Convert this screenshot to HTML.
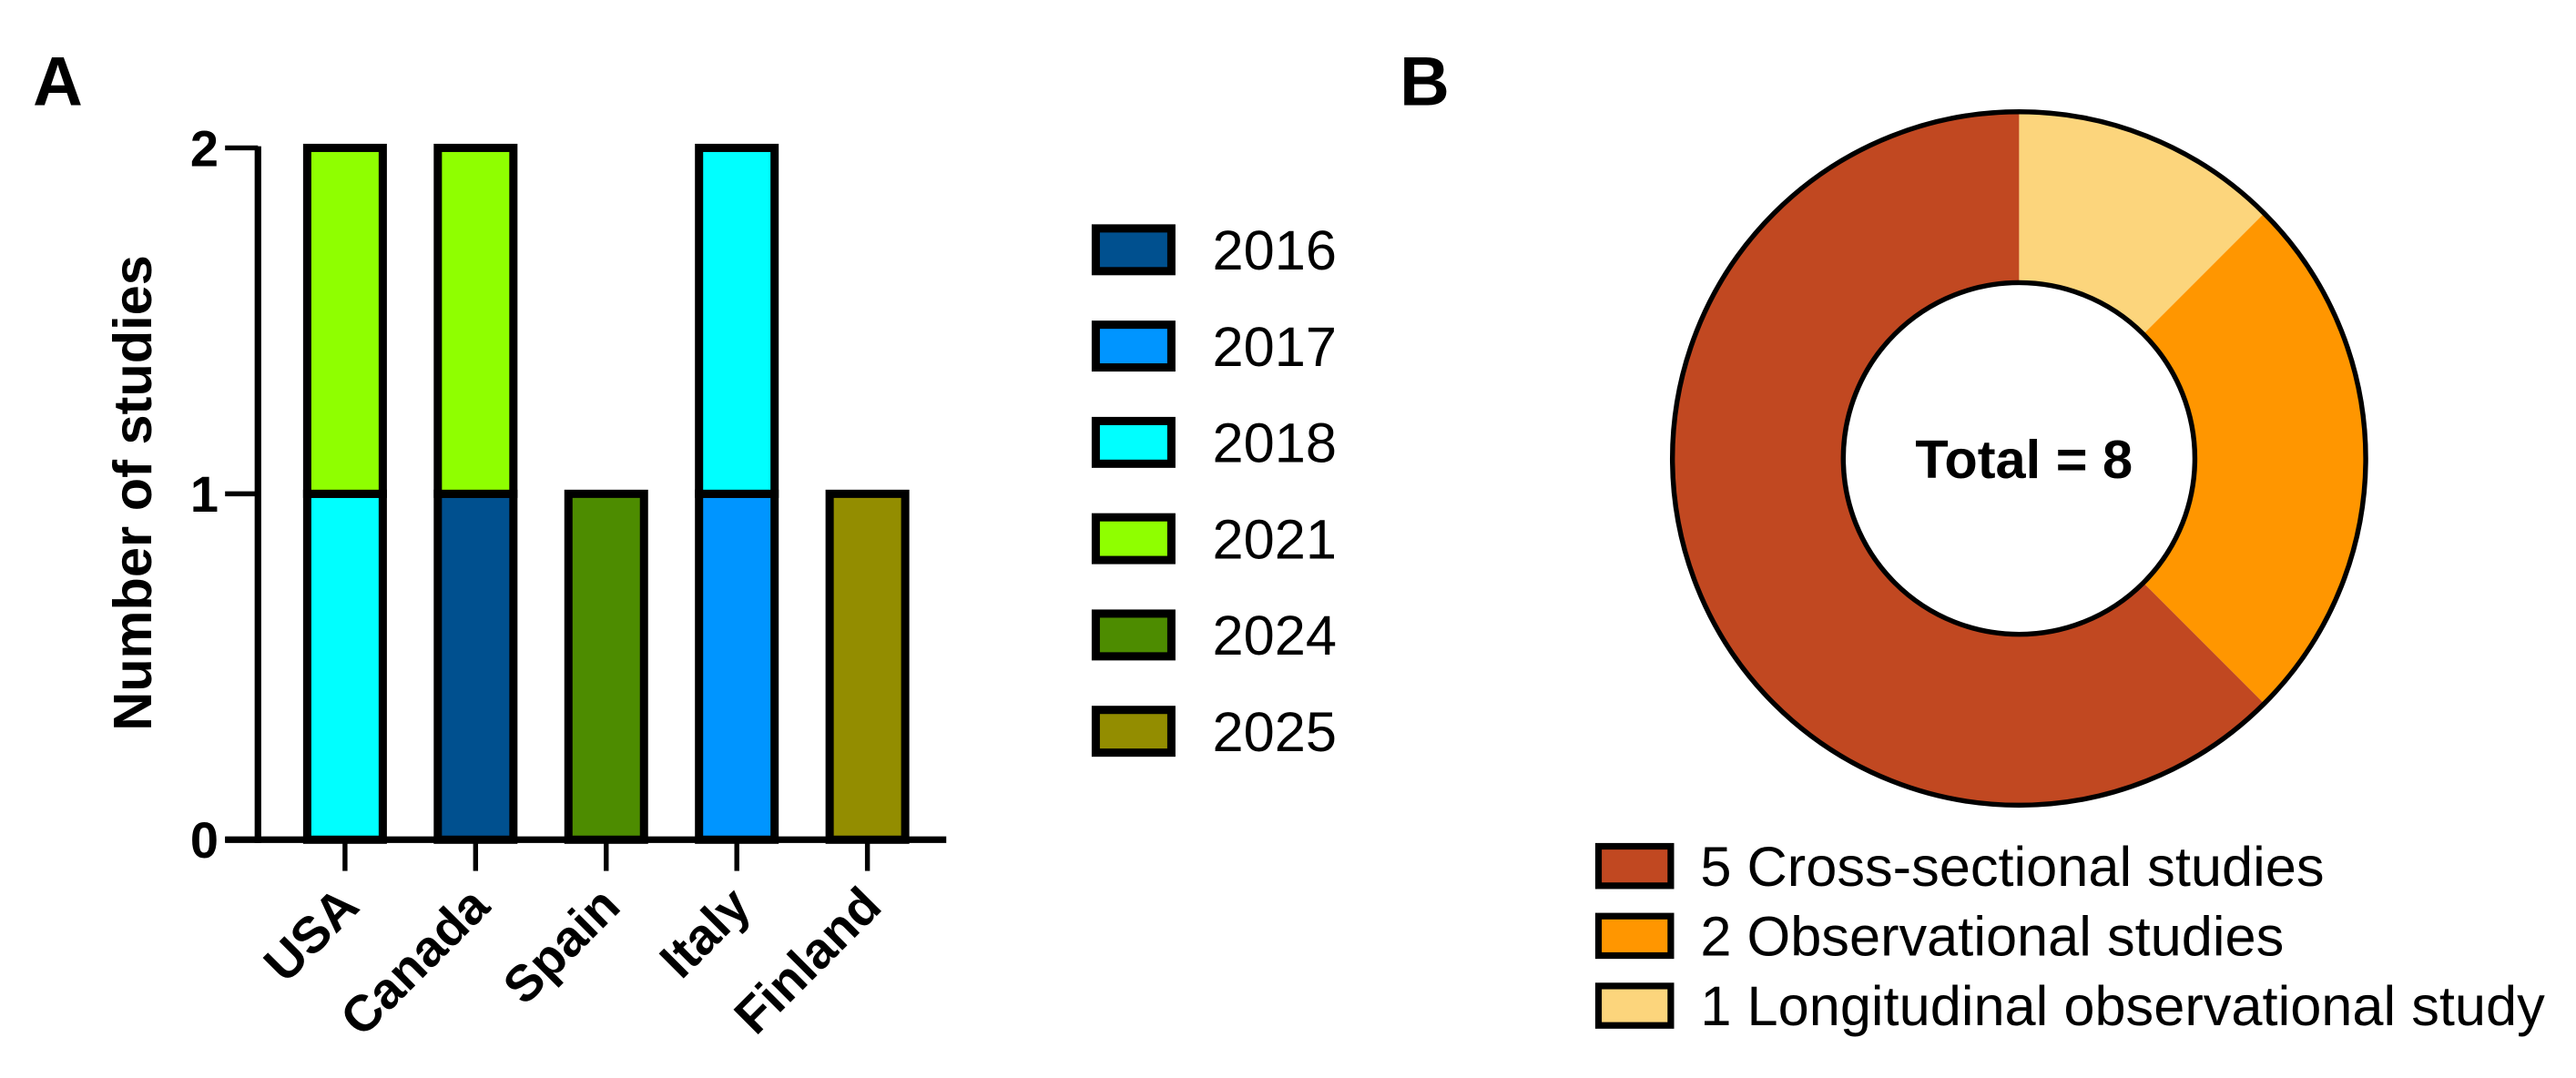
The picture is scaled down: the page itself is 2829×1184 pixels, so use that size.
<!DOCTYPE html>
<html><head><meta charset="utf-8">
<style>html,body{margin:0;padding:0;background:#fff}svg{display:block}text{font-family:"Liberation Sans",Arial,sans-serif}</style>
</head><body>
<svg id="fig" width="2829" height="1184" viewBox="0 0 1568 656" preserveAspectRatio="none" xmlns="http://www.w3.org/2000/svg">
<text x="20" y="64" font-size="42" font-weight="bold">A</text>
<text x="852" y="64" font-size="42" font-weight="bold">B</text>
<g id="barchart"></g>
<g id="donut"></g>
</svg>
<script>
const categories = ["USA","Canada","Spain","Italy","Finland"];
const years = ["2016","2017","2018","2021","2024","2025"];
const yearColors = ["#00508f","#0095ff","#00ffff","#8fff00","#4d8c00","#938d00"];
// stacked segments per country: [year index, count] bottom to top
const stackUSA = [[2,1],[3,1]];
const stackCanada = [[0,1],[3,1]];
const stackSpain = [[4,1]];
const stackItaly = [[1,1],[2,1]];
const stackFinland = [[5,1]];
const stacks = [stackUSA, stackCanada, stackSpain, stackItaly, stackFinland];
const yTicks = [0,1,2];
const pieLabels = ["1 Longitudinal observational study","2 Observational studies","5 Cross-sectional studies"];
const pieValues = [1,2,5];
const pieColors = ["#fcd57c","#ff9600","#c14821"];
const legendOrder = [2,1,0];

const NS="http://www.w3.org/2000/svg";
function mk(tag,attrs,parent){const e=document.createElementNS(NS,tag);for(const k in attrs)e.setAttribute(k,attrs[k]);parent.appendChild(e);return e;}

// ---- Bar chart ----
const bc=document.getElementById('barchart');
const x0=157,y0=511,yTop=90,yMax=2;
const yScale=v=>y0-(v/yMax)*(y0-yTop);
const xCenter=i=>210+i*79.5;
const barW=46;
categories.forEach((c,i)=>{
  let base=0;
  stacks[i].forEach(([yi,v])=>{
    const r=mk('rect',{x:xCenter(i)-barW/2,y:yScale(base+v),width:barW,height:yScale(base)-yScale(base+v),fill:yearColors[yi],stroke:"#000","stroke-width":5},bc);
    
    
    base+=v;
  });
  const t=mk('line',{x1:xCenter(i),x2:xCenter(i),y1:y0,y2:530,stroke:"#000","stroke-width":3},bc);
  
  
  const lx=xCenter(i)+10,ly=553;
  const lb=mk('text',{x:lx,y:ly,"font-size":31,"font-weight":"bold","text-anchor":"end",transform:`rotate(-45 ${lx} ${ly})`},bc);
  lb.textContent=c;
  
  
});
const ax=mk('line',{x1:x0,x2:x0,y1:yTop-1,y2:y0+2,stroke:"#000","stroke-width":4},bc);


const xa=mk('line',{x1:137,x2:576,y1:y0,y2:y0,stroke:"#000","stroke-width":4},bc);


yTicks.forEach(v=>{
  const l=mk('line',{x1:137,x2:x0,y1:yScale(v),y2:yScale(v),stroke:"#000","stroke-width":3},bc);
  
  
  const t=mk('text',{x:133,y:yScale(v)+11,"font-size":31,"font-weight":"bold","text-anchor":"end"},bc);
  t.textContent=v;
  
  
});
const yt=mk('text',{x:92,y:300,"font-size":33,"font-weight":"bold","text-anchor":"middle",transform:"rotate(-90 92 300)"},bc);
yt.textContent="Number of studies";


years.forEach((y,i)=>{
  const cy=152+i*58.6;
  const r=mk('rect',{x:667,y:cy-13,width:46,height:26,fill:yearColors[i],stroke:"#000","stroke-width":5},bc);
  
  
  const t=mk('text',{x:738,y:cy+12,"font-size":34},bc);
  t.textContent=y;
  
  
});

// ---- Donut ----
const dn=document.getElementById('donut');
const cx=1229,cy=279,R=211,r0=107;
const total=pieValues.reduce((a,b)=>a+b,0);
let acc=0;
const pt=(a,rad)=>[cx+rad*Math.sin(a),cy-rad*Math.cos(a)];
pieValues.forEach((v,i)=>{
  const a1=acc/total*2*Math.PI,a2=(acc+v)/total*2*Math.PI;acc+=v;
  const large=(a2-a1)>Math.PI?1:0;
  const [x1,y1]=pt(a1,R),[x2,y2]=pt(a2,R),[x3,y3]=pt(a2,r0),[x4,y4]=pt(a1,r0);
  const p=mk('path',{d:`M${x1},${y1} A${R},${R} 0 ${large} 1 ${x2},${y2} L${x3},${y3} A${r0},${r0} 0 ${large} 0 ${x4},${y4} Z`,fill:pieColors[i]},dn);
  
  
});
const oc=mk('circle',{cx:cx,cy:cy,r:R,fill:"none",stroke:"#000","stroke-width":3},dn);


const ic=mk('circle',{cx:cx,cy:cy,r:r0,fill:"#fff",stroke:"#000","stroke-width":3},dn);


const tt=mk('text',{x:cx+3,y:cy+12,"font-size":33,"font-weight":"bold","text-anchor":"middle"},dn);
tt.textContent="Total = "+total;


legendOrder.forEach((idx,k)=>{
  const ly=527+k*42.5;
  const r=mk('rect',{x:973,y:ly-12,width:44,height:24,fill:pieColors[idx],stroke:"#000","stroke-width":4},dn);
  
  
  const t=mk('text',{x:1035,y:ly+12,"font-size":34},dn);
  t.textContent=pieLabels[idx];
  
  
});
</script>
</body></html>
